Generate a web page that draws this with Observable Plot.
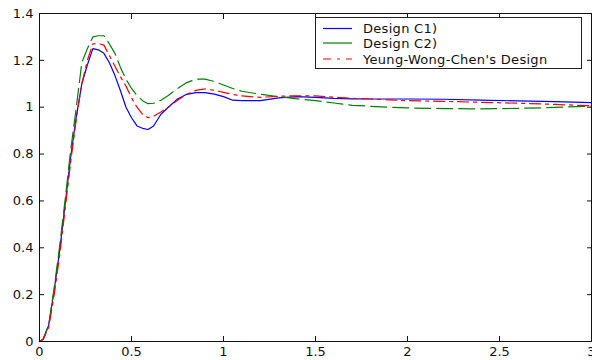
<!DOCTYPE html>
<html><head><meta charset="utf-8">
<script src="https://cdn.jsdelivr.net/npm/d3@7"></script>
<script src="https://cdn.jsdelivr.net/npm/@observablehq/plot@0.6"></script>
<style>
body{margin:0;background:#fff;font-family:"DejaVu Sans",sans-serif;}
#wrap{position:relative;width:592px;height:360px;}
#legend{position:absolute;left:315px;top:17px;width:267px;height:52px;border:1px solid #222;background:#fff;box-sizing:border-box;}
</style></head><body><div id="wrap"></div>
<script>
const time = [0,0.02,0.05,0.08,0.11,0.14,0.17,0.2,0.23,0.26,0.29,0.32,0.35,0.38,0.41,0.44,0.47,0.5,0.53,0.56,0.59,0.62,0.66,0.7,0.75,0.8,0.85,0.9,0.95,1.0,1.05,1.1,1.2,1.3,1.4,1.5,1.6,1.7,1.8,1.9,2.0,2.2,2.4,2.6,2.8,3.0];
const designC1 = [0,0.01,0.07,0.22,0.39,0.59,0.79,0.96,1.10,1.18,1.25,1.245,1.23,1.19,1.135,1.07,1.0,0.955,0.92,0.91,0.905,0.92,0.97,1.0,1.035,1.055,1.062,1.062,1.056,1.045,1.03,1.028,1.028,1.04,1.045,1.042,1.038,1.036,1.035,1.035,1.035,1.034,1.03,1.027,1.024,1.02];
const designC2 = [0,0.01,0.07,0.23,0.41,0.61,0.82,1.0,1.19,1.25,1.30,1.305,1.305,1.27,1.23,1.17,1.12,1.08,1.05,1.028,1.015,1.017,1.03,1.05,1.08,1.105,1.12,1.12,1.11,1.095,1.08,1.068,1.055,1.045,1.036,1.028,1.018,1.008,1.004,1.0,0.997,0.994,0.993,0.995,0.999,1.005];
const ywcDesign = [0,0.01,0.06,0.2,0.37,0.57,0.77,0.95,1.1,1.2,1.27,1.272,1.265,1.22,1.175,1.13,1.09,1.04,1.0,0.97,0.955,0.962,0.98,1.0,1.03,1.055,1.072,1.078,1.072,1.063,1.055,1.048,1.042,1.047,1.049,1.048,1.043,1.038,1.035,1.031,1.028,1.025,1.021,1.017,1.012,1.006];
const seriesNames = ["Design C1)", "Design C2)", "Yeung-Wong-Chen's Design"];
const seriesColors = ["#0000ff", "#008000", "#ff0000"];
const seriesDash = ["none", "16,6", "11,5,3,5"];
const xTicks = [0, 0.5, 1, 1.5, 2, 2.5, 3];
const xTickLabels = ["0", "0.5", "1", "1.5", "2", "2.5", "3"];
const yTicks = [0, 0.2, 0.4, 0.6, 0.8, 1, 1.2, 1.4];
const yTickLabels = ["0", "0.2", "0.4", "0.6", "0.8", "1", "1.2", "1.4"];

const allSeries = [designC1, designC2, ywcDesign];
const rows = allSeries.flatMap((vals, i) => time.map((t, j) => ({t, v: vals[j], s: seriesNames[i]})));

const xFmt = d => xTickLabels[xTicks.indexOf(d)];
const yFmt = d => yTickLabels[yTicks.indexOf(d)];

const lineMarks = seriesNames.map((name, i) =>
  Plot.line(rows.filter(r => r.s === name), {x: "t", y: "v", stroke: seriesColors[i], strokeWidth: 1.2, strokeDasharray: seriesDash[i]})
);

const chart = Plot.plot({
  width: 592, height: 360,
  marginLeft: 39, marginRight: 1, marginTop: 13, marginBottom: 19,
  style: {fontFamily: "'DejaVu Sans', sans-serif", fontSize: "13px", color: "#111", background: "#fff", overflow: "visible"},
  x: {domain: [0, 3]},
  y: {domain: [0, 1.4]},
  marks: [
    ...lineMarks,
    Plot.frame({stroke: "#111", strokeWidth: 1}),
    Plot.axisX(xTicks, {anchor: "bottom", tickSize: -5, tickPadding: 10, tickFormat: xFmt, label: null}),
    Plot.axisX(xTicks, {anchor: "top", tickSize: -5, tickFormat: () => "", label: null}),
    Plot.axisY(yTicks, {anchor: "left", tickSize: -5, tickPadding: 11, tickFormat: yFmt, label: null}),
    Plot.axisY(yTicks, {anchor: "right", tickSize: -5, tickFormat: () => "", label: null})
  ]
});
document.getElementById("wrap").appendChild(chart);

const legend = d3.select("#wrap").append("div").attr("id", "legend");
const lsvg = legend.append("svg").attr("width", 265).attr("height", 50);
const rowY = [10.5, 25, 41];
seriesNames.forEach((name, i) => {
  lsvg.append("line").attr("x1", 7).attr("x2", 36).attr("y1", rowY[i]).attr("y2", rowY[i])
    .attr("stroke", seriesColors[i]).attr("stroke-width", 1.2)
    .attr("stroke-dasharray", i === 2 ? "8,6,3,6" : null);
  lsvg.append("text").attr("x", 47).attr("y", rowY[i]).attr("dy", "0.35em")
    .attr("font-family", "DejaVu Sans, sans-serif").attr("font-size", 13)
    .attr("letter-spacing", "0.3px").attr("fill", "#111").text(name);
});
</script></body></html>
